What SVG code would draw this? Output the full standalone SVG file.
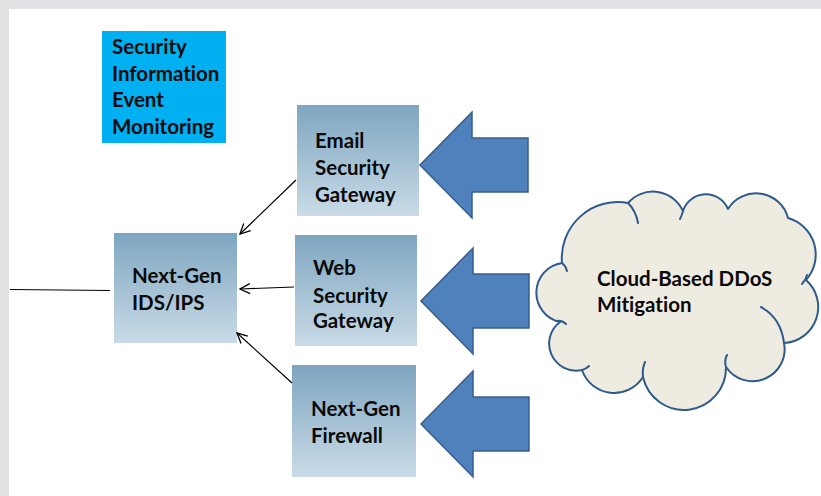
<svg xmlns="http://www.w3.org/2000/svg" width="821" height="496" viewBox="0 0 821 496">
  <defs>
    <linearGradient id="boxFill" x1="0" y1="0" x2="0" y2="1">
      <stop offset="0" stop-color="#7EA6C0"/>
      <stop offset="1" stop-color="#C9DBE7"/>
    </linearGradient>
    <marker id="openHead" viewBox="0 0 12 12" refX="11" refY="6" markerWidth="12" markerHeight="12" markerUnits="userSpaceOnUse" orient="auto">
      <path d="M1,1 L11,6 L1,11" fill="none" stroke="#000" stroke-width="1.3"/>
    </marker>
    <path id="blockArrow" d="M0,0 L52,-53 L52,-27 L108,-27 L108,27 L52,27 L52,53 Z"/>
  </defs>
  <style>
    .label { font-family: Lato, "Open Sans", "Liberation Sans", sans-serif; font-weight: bold; font-size: 20.5px; fill: #0A0A0A; font-variant-ligatures: none; }
    .box { fill: url(#boxFill); }
    .siem { fill: #00B0F0; }
    .conn { stroke: #000; stroke-width: 1.2; fill: none; }
    .big { fill: #4F81BD; stroke: #385D8A; stroke-width: 1.5; }
    .cloud { fill: #EEECE1; stroke: #2F5A8C; stroke-width: 2; stroke-linejoin: round; }
    .hook { fill: none; stroke: #2F5A8C; stroke-width: 2; stroke-linecap: round; }
  </style>

  <!-- page background with frame strips -->
  <rect x="0" y="0" width="821" height="496" fill="#FFFFFF"/>
  <rect x="0" y="0" width="821" height="9" fill="#E1E2E4"/>
  <rect x="0" y="0" width="9" height="496" fill="#E1E2E4"/>

  <g id="siem">
    <rect class="siem" x="102" y="31" width="124" height="112"/>
    <text class="label" x="112" y="54">Security</text>
    <text class="label" x="112" y="80.5">Information</text>
    <text class="label" x="112" y="107">Event</text>
    <text class="label" x="112" y="133.5">Monitoring</text>
  </g>

  <g id="email-gateway">
    <rect class="box" x="297" y="105" width="122" height="111"/>
    <text class="label" x="315" y="148">Email</text>
    <text class="label" x="315" y="175">Security</text>
    <text class="label" x="315" y="201.5">Gateway</text>
  </g>

  <g id="ids-ips">
    <rect class="box" x="114" y="233" width="123" height="110"/>
    <text class="label" x="132" y="283">Next-Gen</text>
    <text class="label" x="132" y="310">IDS/IPS</text>
  </g>

  <g id="web-gateway">
    <rect class="box" x="295" y="235" width="122" height="111"/>
    <text class="label" x="313" y="275">Web</text>
    <text class="label" x="313" y="302.5">Security</text>
    <text class="label" x="313" y="328">Gateway</text>
  </g>

  <g id="firewall">
    <rect class="box" x="292" y="365" width="124" height="112"/>
    <text class="label" x="311" y="416">Next-Gen</text>
    <text class="label" x="311" y="442.5">Firewall</text>
  </g>

  <g id="inbound-arrows">
    <use href="#blockArrow" class="big" x="420" y="165"/>
    <use href="#blockArrow" class="big" x="421" y="301"/>
    <use href="#blockArrow" class="big" x="421" y="424"/>
  </g>

  <g id="ddos-cloud">
    <path class="cloud" d="M562,263
      A56 56 0 0 1 628,203
      A33 33 0 0 1 683,211
      A24 24 0 0 1 728,209
      A33 33 0 0 1 788,218
      A38 38 0 0 1 806,280
      A36 36 0 0 1 784,343
      A32 32 0 0 1 726,367
      A42 42 0 0 1 643,377
      A34 34 0 0 1 582,370
      A27 27 0 0 1 560,322
      A30 30 0 0 1 562,263 Z"/>
    <path class="hook" d="M562,263 Q566,266 567,271"/>
    <path class="hook" d="M628,203 Q636,211 638,223"/>
    <path class="hook" d="M683,211 Q682,215 680,219"/>
    <path class="hook" d="M807,275 Q806,280 802,284"/>
    <path class="hook" d="M761,307 Q781,318 784,343"/>
    <path class="hook" d="M726,367 Q724,361 727,355"/>
    <path class="hook" d="M643,377 Q642,369 645,362"/>
    <path class="hook" d="M582,370 Q586,369 589,366"/>
    <path class="hook" d="M556,321 Q562,320 566,324"/>
    <text class="label" x="597" y="286">Cloud-Based DDoS</text>
    <text class="label" x="597" y="312">Mitigation</text>
  </g>

  <g id="connectors">
    <line class="conn" x1="296" y1="180" x2="240" y2="234" marker-end="url(#openHead)"/>
    <line class="conn" x1="294" y1="287" x2="240" y2="289" marker-end="url(#openHead)"/>
    <line class="conn" x1="292" y1="383" x2="237" y2="333" marker-end="url(#openHead)"/>
    <line class="conn" x1="10" y1="289.5" x2="110" y2="290.5"/>
  </g>
</svg>
